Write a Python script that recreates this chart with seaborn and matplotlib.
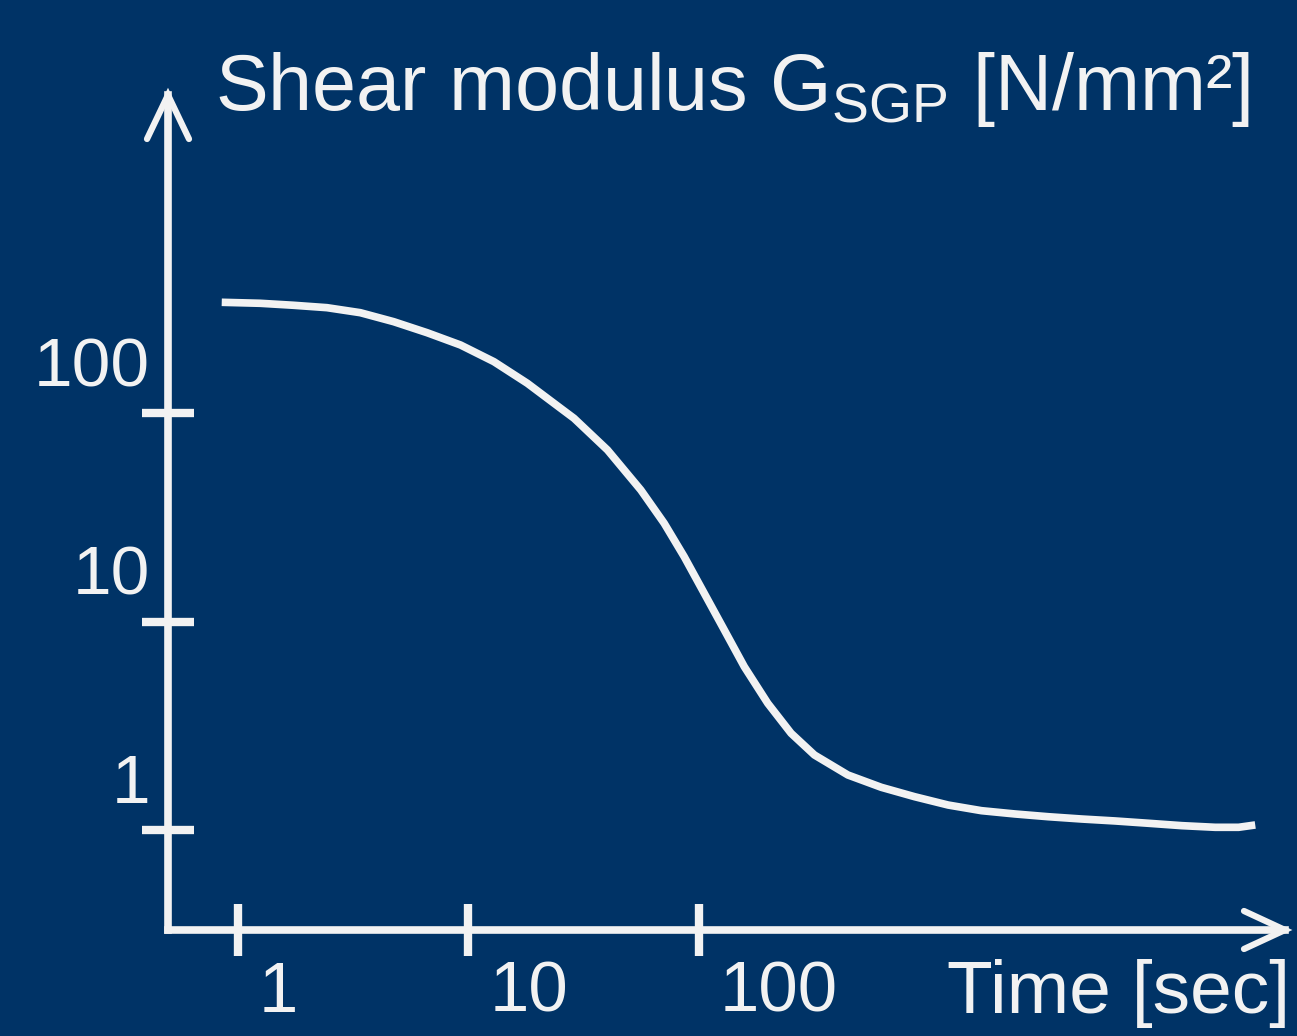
import matplotlib
matplotlib.use("Agg")
import matplotlib.pyplot as plt
import pandas as pd
import seaborn as sns
from matplotlib.transforms import offset_copy

# values (log-log schematic)
time_sec = [0.852, 1.251, 1.745, 2.438, 3.403, 4.750, 6.636, 9.262, 12.93, 18.06,
            25.20, 28.79, 40.23, 56.14, 70.9, 86.6, 105.8, 129.3, 157.9, 199.6,
            252.0, 318.2, 444.6, 620.7, 866.0, 1210, 1689, 2357, 3293, 4596,
            6413, 8961, 12506, 17456, 22060, 26050]
shear_mod = [340.2, 336.5, 329.2, 320.6, 303.3, 274.6, 243.1, 212.3, 176.6, 139.1,
             105.5, 94.5, 66.6, 42.8, 29.64, 20.49, 13.68, 9.12, 6.08, 4.06,
             2.915, 2.294, 1.839, 1.605, 1.447, 1.320, 1.240, 1.196, 1.160, 1.131,
             1.107, 1.079, 1.051, 1.032, 1.032, 1.059]
tick_vals = [1, 10, 100]
tick_labels = ["1", "10", "100"]

bg = "#003366"
fg = "#f2f2f2"

sns.set_theme(style="white")
plt.rcParams["font.family"] = ["Liberation Sans", "DejaVu Sans"]
plt.rcParams["mathtext.fontset"] = "custom"
plt.rcParams["mathtext.rm"] = "Liberation Sans"

W, H = 1297, 1036
fig = plt.figure(figsize=(W / 100, H / 100), dpi=100, facecolor=bg)
ax = fig.add_axes([168 / W, 106 / H, 1117 / W, 835 / H])
ax.set_facecolor(bg)
ax.set(xscale="log", yscale="log")

df = pd.DataFrame({"time": time_sec, "G": shear_mod})
sns.lineplot(data=df, x="time", y="G", color=fg, lw=5.5, estimator=None,
             solid_capstyle="butt", solid_joinstyle="round", ax=ax)
ax.set_xlim(0.498, 35070)
ax.set_ylim(0.332, 3357)
ax.set_xlabel("")
ax.set_ylabel("")

# axes with arrow heads
for side in ["top", "right"]:
    ax.spines[side].set_visible(False)
for side in ["left", "bottom"]:
    ax.spines[side].set_color(fg)
    ax.spines[side].set_linewidth(5.5)
    ax.spines[side].set_capstyle("projecting")

ax.plot([-21 / 1117, 0, 21 / 1117], [1 - 44 / 835, 1, 1 - 44 / 835],
        transform=ax.transAxes, color=fg, lw=4.5, clip_on=False,
        solid_capstyle="round", solid_joinstyle="miter")
ax.plot([1 - 41 / 1117, 1, 1 - 41 / 1117], [19 / 835, 0, -19 / 835],
        transform=ax.transAxes, color=fg, lw=4.5, clip_on=False,
        solid_capstyle="round", solid_joinstyle="miter")

ax.set_xticks(tick_vals)
ax.set_yticks(tick_vals)
ax.minorticks_off()
ax.tick_params(which="major", direction="inout", length=37, width=6, color=fg,
               bottom=True, left=True, labelbottom=False, labelleft=False)

# tick labels sit beside the ticks, not centred on them
ytr = offset_copy(ax.get_yaxis_transform(), fig=fig, x=-18, y=27, units="dots")
for v, s in zip(tick_vals, tick_labels):
    ax.text(0, v, s, transform=ytr, ha="right", va="baseline",
            fontsize=50, color=fg)
xtr = offset_copy(ax.get_xaxis_transform(), fig=fig, x=21, y=-82, units="dots")
for v, s in zip(tick_vals, tick_labels):
    ax.text(v, 0, s, transform=xtr, ha="left", va="baseline",
            fontsize=51, color=fg)

fig.text(215 / W, 1 - 110 / H, r"Shear modulus G$_\mathrm{SGP}$ [N/mm²]",
         ha="left", va="baseline", fontsize=57, color=fg)
fig.text(1290 / W, 1 - 1013 / H, "Time [sec]", ha="right", va="baseline",
         fontsize=54, color=fg)

fig.savefig("out.png", dpi=100, facecolor=bg)
